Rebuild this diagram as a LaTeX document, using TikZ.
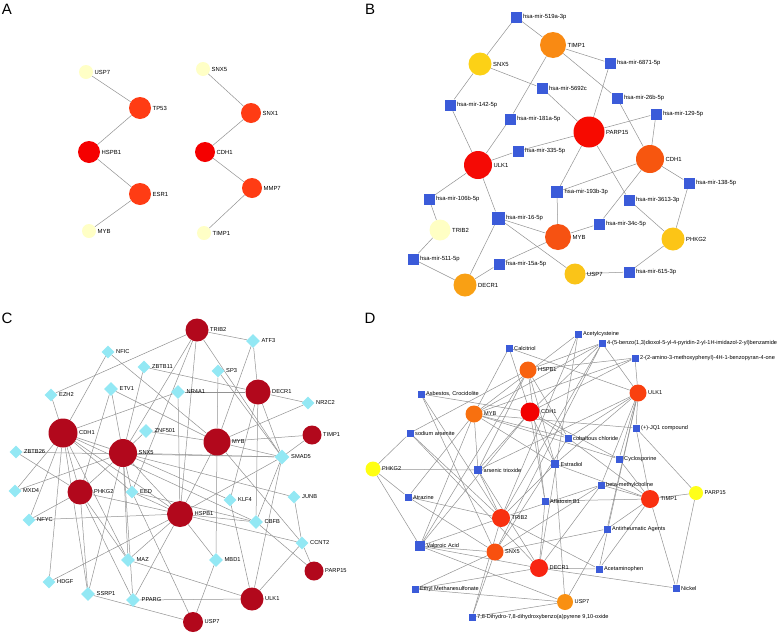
\documentclass[tikz,border=0pt]{standalone}
\usepackage{fontspec}
\setmainfont{Liberation Sans}
\usetikzlibrary{shapes.geometric}
\pgfdeclarelayer{bg}\pgfdeclarelayer{edges}\pgfsetlayers{bg,edges,main}
\definecolor{edgegray}{HTML}{929292}
\definecolor{mirblue}{HTML}{3B5BD9}
\definecolor{tfcyan}{HTML}{93E8F4}
\newcommand\GeneC[6]{\definecolor{col#1}{HTML}{#5}\node[gn,minimum size=#4,fill=col#1,label={[lab]right:{#6}}] (#1) at (#2,#3) {};}
\newcommand\MirS[5]{\node[rectangle,inner sep=0pt,minimum size=#4,fill=mirblue,label={[lab]right:{#5}}] (#1) at (#2,#3) {};}
\newcommand\TfD[4]{\node[dm,minimum width=#4,minimum height=#4,label={[lab]right:{#3}}] (#1) at #2 {};}
\begin{document}
\begin{tikzpicture}[x=1pt,y=-1pt,
  lab/.style={font=\fontsize{5.9}{6}\selectfont,text=black,inner sep=0.5pt},
  gn/.style={circle,inner sep=0pt,draw=none},
  dm/.style={diamond,aspect=1,inner sep=0pt,fill=tfcyan,draw=none},
  edge/.style={draw=edgegray,line width=0.5pt},
  panel/.style={font=\fontsize{15}{15}\selectfont,inner sep=0pt},
  label distance=0.8pt]
\begin{pgfonlayer}{bg}\fill[white] (0,0) rectangle (784,635);\end{pgfonlayer}
\useasboundingbox (0,0) rectangle (784,635);
% panel letters
\node[panel] (pA) at (7,9) {A};
\node[panel] (pB) at (370,9) {B};
\node[panel] (pC) at (7,318) {C};
\node[panel] (pD) at (370,318) {D};
% ---------------- Panel A
\GeneC{aUSP7}{86}{72}{14}{FFFFC6}{USP7}
\GeneC{aTP53}{140}{108}{22}{FF3C14}{TP53}
\GeneC{aHSPB1}{89}{152}{22}{F50000}{HSPB1}
\GeneC{aESR1}{140}{194}{22}{FF3C14}{ESR1}
\GeneC{aMYB}{89}{231}{14}{FFFFC6}{MYB}
\GeneC{aSNX5}{203}{69}{14}{FFFFC6}{SNX5}
\GeneC{aSNX1}{251}{113}{20}{FF3C14}{SNX1}
\GeneC{aCDH1}{205}{152}{20}{F50000}{CDH1}
\GeneC{aMMP7}{252}{188}{20}{FF3C14}{MMP7}
\GeneC{aTIMP1}{204}{233}{14}{FFFFC6}{TIMP1}
% ---------------- Panel B
\MirS{b519}{516}{17}{11}{hsa-mir-519a-3p}
\GeneC{bTIMP1}{553}{45}{26}{F98A13}{TIMP1}
\GeneC{bSNX5}{480}{64}{23}{FCD116}{SNX5}
\MirS{b6871}{610}{63}{11}{hsa-mir-6871-5p}
\MirS{b5692}{542}{88}{11}{hsa-mir-5692c}
\MirS{b26b}{617}{98}{11}{hsa-mir-26b-5p}
\MirS{b142}{450}{105}{11}{hsa-mir-142-5p}
\MirS{b129}{656}{114}{11}{hsa-mir-129-5p}
\MirS{b181}{510}{119}{11}{hsa-mir-181a-5p}
\GeneC{bPARP15}{589}{132}{31}{F70A00}{PARP15}
\MirS{b335}{518}{151}{11}{hsa-mir-335-5p}
\GeneC{bULK1}{478}{165}{28}{F50A05}{ULK1}
\GeneC{bCDH1}{650}{159}{28}{F7560F}{CDH1}
\MirS{b138}{689}{183}{11}{hsa-mir-138-5p}
\MirS{b193}{557}{192}{12}{hsa-mir-193b-3p}
\MirS{b3613}{629}{200}{11}{hsa-mir-3613-3p}
\MirS{b106}{429}{199}{11}{hsa-mir-106b-5p}
\MirS{b16}{498}{218}{13}{hsa-mir-16-5p}
\MirS{b34}{599}{224}{11}{hsa-mir-34c-5p}
\GeneC{bTRIB2}{440}{230}{21}{FFFFC4}{TRIB2}
\GeneC{bMYB}{558}{237}{26}{F65212}{MYB}
\GeneC{bPHKG2}{673}{239}{23}{FCC516}{PHKG2}
\MirS{b511}{413}{259}{11}{hsa-mir-511-5p}
\MirS{b15}{499}{264}{11}{hsa-mir-15a-5p}
\MirS{b615}{629}{272}{11}{hsa-mir-615-3p}
\GeneC{bUSP7}{575}{274}{21}{FAC418}{USP7}
\GeneC{bDECR1}{465}{285}{23}{F9A014}{DECR1}
% ---------------- Panel C
\begin{scope}[lab/.append style={font=\fontsize{5.7}{6}\selectfont}]
\GeneC{cTRIB2}{197}{330}{23}{B2081C}{TRIB2}
\TfD{cATF3}{(253,341)}{ATF3}{14}
\TfD{cNFIC}{(108,352)}{NFIC}{13}
\TfD{cZBTB11}{(144,367)}{ZBTB11}{13}
\TfD{cSP3}{(218,371)}{SP3}{13}
\TfD{cEZH2}{(51,395)}{EZH2}{13}
\TfD{cETV1}{(111,389)}{ETV1}{14}
\TfD{cNR4A1}{(178,392)}{NR4A1}{14}
\GeneC{cDECR1}{258}{392}{25}{B2081C}{DECR1}
\TfD{cNR2C2}{(308,403)}{NR2C2}{13}
\GeneC{cCDH1}{63}{433}{29}{B2081C}{CDH1}
\TfD{cZNF501}{(146,431)}{ZNF501}{14}
\GeneC{cMYB}{217}{442}{27}{B2081C}{MYB}
\GeneC{cTIMP1}{312}{435}{19}{B2081C}{TIMP1}
\TfD{cZBTB26}{(16,452)}{ZBTB26}{13}
\GeneC{cSNX5}{123}{453}{28}{B2081C}{SNX5}
\TfD{cSMAD5}{(282,457)}{SMAD5}{15}
\TfD{cMXD4}{(15,491)}{MXD4}{13}
\GeneC{cPHKG2}{80}{492}{25}{B2081C}{PHKG2}
\TfD{cEED}{(132,492)}{EED}{13}
\TfD{cKLF4}{(230,500)}{KLF4}{13}
\TfD{cJUNB}{(294,497)}{JUNB}{13}
\TfD{cNFYC}{(29,520)}{NFYC}{13}
\GeneC{cHSPB1}{180}{514}{26}{B2081C}{HSPB1}
\TfD{cCBFB}{(256,522)}{CBFB}{14}
\TfD{cCCNT2}{(302,543)}{CCNT2}{13}
\TfD{cMAZ}{(128,560)}{MAZ}{14}
\TfD{cMBD1}{(216,560)}{MBD1}{14}
\GeneC{cPARP15}{314}{571}{19}{B2081C}{PARP15}
\TfD{cHDGF}{(49,582)}{HDGF}{13}
\TfD{cSSRP1}{(88,594)}{SSRP1}{14}
\TfD{cPPARG}{(133,600)}{PPARG}{14}
\GeneC{cULK1}{252}{599}{23}{B2081C}{ULK1}
\GeneC{cUSP7}{193}{622}{20}{B2081C}{USP7}
\end{scope}
% ---------------- Panel D
\begin{scope}[lab/.append style={font=\fontsize{5.6}{6}\selectfont}]
\MirS{dAcet}{578}{334}{7}{Acetylcysteine}
\MirS{dBenz}{602}{343}{7}{4-(5-benzo(1,3)dioxol-5-yl-4-pyridin-2-yl-1H-imidazol-2-yl)benzamide}
\MirS{dCalc}{509}{348}{7}{Calcitriol}
\MirS{dAmino}{635}{358}{7}{2-(2-amino-3-methoxyphenyl)-4H-1-benzopyran-4-one}
\GeneC{dHSPB1}{528}{370}{17}{F8620F}{HSPB1}
\GeneC{dULK1}{638}{393}{17}{F9400F}{ULK1}
\MirS{dAsb}{421}{394}{7}{Asbestos, Crocidolite}
\GeneC{dMYB}{474}{414}{17}{F8700F}{MYB}
\GeneC{dCDH1}{530}{412}{19}{F20000}{CDH1}
\MirS{dJQ1}{636}{428}{7}{(+)-JQ1 compound}
\MirS{dNaAs}{410}{433}{7}{sodium arsenite}
\MirS{dCobalt}{568}{438}{7}{cobaltous chloride}
\MirS{dCyclo}{619}{459}{7}{Cyclosporine}
\GeneC{dPHKG2}{373}{469}{15}{FFFF12}{PHKG2}
\MirS{dEstr}{555}{464}{8}{Estradiol}
\MirS{dAsTri}{478}{470}{8}{arsenic trioxide}
\MirS{dBeta}{601}{485}{7}{beta-methylcholine}
\MirS{dAtra}{408}{497}{7}{Atrazine}
\MirS{dAfla}{545}{501}{7}{Aflatoxin B1}
\GeneC{dTIMP1}{650}{499}{18}{F93010}{TIMP1}
\GeneC{dPARP15}{696}{493}{14}{FFFF1A}{PARP15}
\GeneC{dTRIB2}{501}{518}{18}{F8300F}{TRIB2}
\MirS{dAntirh}{607}{529}{7}{Antirheumatic Agents}
\MirS{dValp}{420}{546}{10}{Valproic Acid}
\GeneC{dSNX5}{495}{552}{17}{F8500F}{SNX5}
\GeneC{dDECR1}{539}{568}{18}{F82512}{DECR1}
\MirS{dAcetam}{599}{569}{7}{Acetaminophen}
\MirS{dNickel}{676}{588}{7}{Nickel}
\MirS{dEthyl}{415}{589}{7}{Ethyl Methanesulfonate}
\GeneC{dUSP7}{565}{602}{16}{F99012}{USP7}
\MirS{dDihyd}{472}{617}{7}{7,8-Dihydro-7,8-dihydroxybenzo(a)pyrene 9,10-oxide}
\end{scope}
% ---------------- Edges
\begin{pgfonlayer}{edges}
\foreach \a/\b in {aUSP7/aTP53,aTP53/aHSPB1,aHSPB1/aESR1,aESR1/aMYB,aSNX5/aSNX1,aSNX1/aCDH1,aCDH1/aMMP7,aMMP7/aTIMP1}
  \draw[edge] (\a) -- (\b);
\foreach \a/\b in {b519/bSNX5,b519/bTIMP1,bTIMP1/b6871,bTIMP1/b26b,bTIMP1/b181,bSNX5/b5692,bSNX5/b142,
  b6871/bPARP15,b5692/bPARP15,b26b/bCDH1,b129/bPARP15,b129/bCDH1,b142/bULK1,b181/bULK1,b335/bPARP15,b335/bULK1,
  bPARP15/b193,bPARP15/b3613,bCDH1/b193,bCDH1/b34,bCDH1/b138,b138/bPHKG2,b3613/bPHKG2,bULK1/b106,bULK1/b16,
  b106/bTRIB2,bTRIB2/b511,b511/bDECR1,b16/bDECR1,b16/bMYB,b16/bUSP7,b193/bMYB,bMYB/b34,bMYB/b15,b15/bDECR1,
  bUSP7/b615,b615/bPHKG2}
  \draw[edge] (\a) -- (\b);
\foreach \a/\b in {cTRIB2/cATF3,cTRIB2/cEZH2,cTRIB2/cSNX5,cTRIB2/cEED,cTRIB2/cHSPB1,cTRIB2/cSMAD5,
  cATF3/cDECR1,cATF3/cMYB,cNFIC/cCDH1,cNFIC/cMYB,cZBTB11/cDECR1,cZBTB11/cSNX5,cSP3/cMYB,cSP3/cSMAD5,
  cETV1/cSNX5,cETV1/cMYB,cETV1/cPHKG2,cEZH2/cCDH1,cNR4A1/cDECR1,cNR4A1/cCDH1,cNR4A1/cHSPB1,
  cDECR1/cNR2C2,cDECR1/cSMAD5,cDECR1/cKLF4,cDECR1/cCBFB,cNR2C2/cMYB,cZNF501/cSNX5,cZNF501/cMYB,
  cMYB/cTIMP1,cMYB/cSMAD5,cZBTB26/cSMAD5,cZBTB26/cPHKG2,cTIMP1/cSMAD5,
  cCDH1/cSNX5,cCDH1/cMXD4,cCDH1/cNFYC,cCDH1/cHDGF,cCDH1/cPHKG2,cCDH1/cMAZ,cCDH1/cEED,cCDH1/cHSPB1,
  cCDH1/cSSRP1,cCDH1/cCBFB,
  cSNX5/cPHKG2,cSNX5/cEED,cSNX5/cHSPB1,cSNX5/cSMAD5,cSNX5/cKLF4,cSNX5/cJUNB,cSNX5/cMAZ,cSNX5/cSSRP1,
  cSNX5/cMXD4,cSNX5/cPPARG,
  cPHKG2/cHSPB1,cPHKG2/cMAZ,cPHKG2/cPPARG,cPHKG2/cSSRP1,cPHKG2/cNFYC,
  cEED/cHSPB1,cEED/cUSP7,cEED/cCBFB,
  cHSPB1/cNFYC,cHSPB1/cHDGF,cHSPB1/cPPARG,cHSPB1/cMBD1,cHSPB1/cMAZ,cHSPB1/cCBFB,cHSPB1/cCCNT2,cHSPB1/cSMAD5,
  cKLF4/cULK1,cJUNB/cCCNT2,cCBFB/cPARP15,cCBFB/cSMAD5,cCCNT2/cULK1,cCCNT2/cPARP15,cMBD1/cUSP7,cMBD1/cMYB,
  cMAZ/cULK1,cPPARG/cULK1,cSSRP1/cUSP7,cULK1/cSMAD5,cMYB/cCCNT2,cMYB/cHSPB1}
  \draw[edge] (\a) -- (\b);
\foreach \a/\b in {dAcet/dMYB,dAcet/dTRIB2,dAcet/dDECR1,
  dBenz/dMYB,dBenz/dHSPB1,dBenz/dCDH1,dBenz/dSNX5,dBenz/dTRIB2,dBenz/dULK1,
  dCalc/dMYB,dCalc/dCDH1,dCalc/dULK1,
  dAmino/dULK1,dAmino/dHSPB1,dAmino/dCDH1,dAmino/dMYB,
  dAsb/dCDH1,dAsb/dSNX5,dAsb/dTRIB2,
  dNaAs/dHSPB1,dNaAs/dPHKG2,dNaAs/dTRIB2,dNaAs/dDECR1,
  dCobalt/dMYB,dCobalt/dCDH1,dCobalt/dHSPB1,dCobalt/dULK1,dCobalt/dTIMP1,dCobalt/dSNX5,
  dJQ1/dULK1,dJQ1/dTIMP1,dJQ1/dPARP15,dJQ1/dMYB,
  dCyclo/dULK1,dCyclo/dTIMP1,dCyclo/dCDH1,dCyclo/dMYB,
  dEstr/dCDH1,dEstr/dHSPB1,dEstr/dULK1,dEstr/dTRIB2,dEstr/dUSP7,dEstr/dTIMP1,dEstr/dMYB,
  dAsTri/dHSPB1,dAsTri/dCDH1,dAsTri/dMYB,dAsTri/dTRIB2,dAsTri/dPHKG2,dAsTri/dULK1,dAsTri/dDECR1,
  dBeta/dULK1,dBeta/dTIMP1,dBeta/dDECR1,dBeta/dTRIB2,dBeta/dSNX5,
  dAtra/dMYB,dAtra/dTRIB2,dAtra/dSNX5,dAtra/dPHKG2,
  dAfla/dTIMP1,dAfla/dCDH1,dAfla/dHSPB1,dAfla/dDECR1,
  dAntirh/dTIMP1,dAntirh/dULK1,dAntirh/dSNX5,dAntirh/dUSP7,
  dValp/dMYB,dValp/dCDH1,dValp/dHSPB1,dValp/dTRIB2,dValp/dSNX5,dValp/dDECR1,dValp/dUSP7,dValp/dPHKG2,
  dAcetam/dULK1,dAcetam/dTIMP1,dAcetam/dTRIB2,dAcetam/dDECR1,
  dNickel/dTIMP1,dNickel/dPARP15,dNickel/dDECR1,
  dEthyl/dUSP7,dEthyl/dSNX5,dEthyl/dDECR1,
  dDihyd/dUSP7,dDihyd/dSNX5,dDihyd/dTRIB2,dPARP15/dTIMP1}
  \draw[edge] (\a) -- (\b);
\end{pgfonlayer}
\end{tikzpicture}
\end{document}
